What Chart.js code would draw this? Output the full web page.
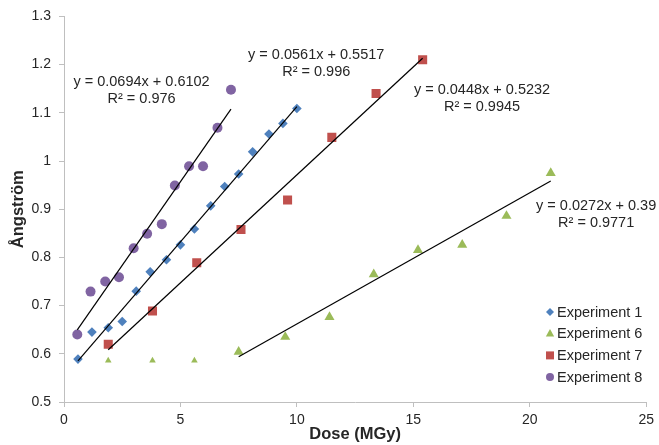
<!DOCTYPE html>
<html>
<head>
<meta charset="utf-8">
<script src="https://cdn.jsdelivr.net/npm/chart.js@4/dist/chart.umd.min.js"></script>
<style>
  html, body { margin: 0; padding: 0; background: #ffffff; }
  #wrap { width: 659px; height: 445px; position: relative; }
</style>
</head>
<body>
<div id="wrap"><canvas id="c" width="659" height="445"></canvas></div>
<script>
// ---- data ----
const seriesNames = ['Experiment 1', 'Experiment 6', 'Experiment 7', 'Experiment 8'];

const exp1Dose = [0.6, 1.2, 1.9, 2.5, 3.1, 3.7, 4.4, 5.0, 5.6, 6.3, 6.9, 7.5, 8.1, 8.8, 9.4, 10.0];
const exp1Ang  = [0.589, 0.645, 0.654, 0.667, 0.730, 0.770, 0.795, 0.826, 0.859, 0.907, 0.947, 0.973, 1.019, 1.056, 1.078, 1.109];

const exp6Dose = [1.9, 3.8, 5.6, 7.5, 9.5, 11.4, 13.3, 15.2, 17.1, 19.0, 20.9];
const exp6Ang  = [0.586, 0.586, 0.586, 0.604, 0.635, 0.676, 0.765, 0.815, 0.826, 0.886, 0.975];

const exp7Dose = [1.9, 3.8, 5.7, 7.6, 9.6, 11.5, 13.4, 15.4];
const exp7Ang  = [0.620, 0.689, 0.789, 0.858, 0.919, 1.049, 1.140, 1.210];

const exp8Dose = [0.57, 1.14, 1.77, 2.36, 2.99, 3.57, 4.2, 4.76, 5.37, 5.97, 6.59, 7.17];
const exp8Ang  = [0.640, 0.729, 0.750, 0.759, 0.819, 0.849, 0.869, 0.949, 0.989, 0.989, 1.069, 1.148];

// linear trendlines (slope, intercept, R²) and first fitted point index
const trendSlope     = [0.0561, 0.0272, 0.0448, 0.0694];
const trendIntercept = [0.5517, 0.39,   0.5232, 0.6102];
const trendR2        = ['0.996', '0.9771', '0.9945', '0.976'];
const trendEqText    = ['y = 0.0561x + 0.5517', 'y = 0.0272x + 0.39', 'y = 0.0448x + 0.5232', 'y = 0.0694x + 0.6102'];
const trendFitFrom   = [0, 3, 0, 0];

const xTicks = [0, 5, 10, 15, 20, 25];
const yTicks = [0.5, 0.6, 0.7, 0.8, 0.9, 1.0, 1.1, 1.2, 1.3];
const yTickLabels = ['0.5', '0.6', '0.7', '0.8', '0.9', '1', '1.1', '1.2', '1.3'];
const xTitle = 'Dose (MGy)';
const yTitle = 'Ångström';

// ---- styling ----
const colors = ['#4F81BD', '#9BBB59', '#C0504D', '#8064A2'];
const pointStyles = ['rectRot', 'triangle', 'rect', 'circle'];
const pointSizes = [
  exp1Dose.map(() => 4.8),
  exp6Dose.map((d, i) => i < 3 ? 3.8 : 5.8),
  exp7Dose.map(() => 6.4),
  exp8Dose.map(() => 5)
];
// label anchor (data coordinates of the centre of the first line)
const labelAnchors = [
  {x: 10.83, y: 1.220},
  {x: 22.85, y: 0.907},
  {x: 17.95, y: 1.148},
  {x: 3.33, y: 1.163}
];

const doses = [exp1Dose, exp6Dose, exp7Dose, exp8Dose];
const angs  = [exp1Ang, exp6Ang, exp7Ang, exp8Ang];

const datasets = [];
for (let s = 0; s < 4; s++) {
  datasets.push({
    label: seriesNames[s],
    data: doses[s].map((d, i) => ({x: d, y: angs[s][i]})),
    backgroundColor: colors[s],
    borderColor: colors[s],
    borderWidth: 0,
    pointStyle: pointStyles[s],
    pointRadius: pointSizes[s],
    pointHoverRadius: pointSizes[s],
    showLine: false,
    order: 2
  });
}
for (let s = 0; s < 4; s++) {
  const fitted = doses[s].slice(trendFitFrom[s]);
  const x0 = Math.min(...fitted), x1 = Math.max(...fitted);
  datasets.push({
    label: 'trend ' + seriesNames[s],
    data: [x0, x1].map(x => ({x: x, y: trendSlope[s] * x + trendIntercept[s]})),
    borderColor: '#000000',
    borderWidth: 1.2,
    pointRadius: 0,
    showLine: true,
    fill: false,
    order: 1
  });
}

const textColor = '#262626';
const axisColor = '#BFBFBF';

const annotPlugin = {
  id: 'annot',
  afterDatasetsDraw(chart) {
    const ctx = chart.ctx;
    const xs = chart.scales.x, ys = chart.scales.y;
    ctx.save();
    ctx.fillStyle = textColor;
    ctx.font = '14.5px "Liberation Sans", Arial, sans-serif';
    ctx.textAlign = 'center';
    ctx.textBaseline = 'middle';
    for (let s = 0; s < 4; s++) {
      const px = xs.getPixelForValue(labelAnchors[s].x);
      const py = ys.getPixelForValue(labelAnchors[s].y);
      ctx.fillText(trendEqText[s], px, py);
      ctx.fillText('R² = ' + trendR2[s], px, py + 17);
    }
    // legend
    const lx = 550, ly0 = 312, step = 21.7;
    ctx.textAlign = 'left';
    for (let s = 0; s < 4; s++) {
      const y = ly0 + s * step;
      ctx.fillStyle = colors[s];
      ctx.beginPath();
      if (pointStyles[s] === 'rectRot') {
        const r = 4;
        ctx.moveTo(lx - r, y); ctx.lineTo(lx, y - r); ctx.lineTo(lx + r, y); ctx.lineTo(lx, y + r);
      } else if (pointStyles[s] === 'triangle') {
        const r = 4.8;
        ctx.moveTo(lx, y - r); ctx.lineTo(lx + r * 0.866, y + r / 2 + 0.5); ctx.lineTo(lx - r * 0.866, y + r / 2 + 0.5);
      } else if (pointStyles[s] === 'rect') {
        ctx.rect(lx - 4, y - 4, 8, 8);
      } else {
        ctx.arc(lx, y, 4, 0, Math.PI * 2);
      }
      ctx.closePath();
      ctx.fill();
      ctx.fillStyle = textColor;
      ctx.fillText(seriesNames[s], lx + 7, y + 0.5);
    }
    ctx.restore();
  }
};

new Chart(document.getElementById('c'), {
  type: 'scatter',
  data: { datasets: datasets },
  plugins: [annotPlugin],
  options: {
    responsive: false,
    animation: false,
    devicePixelRatio: 1,
    layout: { padding: { left: 0, right: 11, top: 16, bottom: 0 } },
    plugins: {
      legend: { display: false },
      tooltip: { enabled: false }
    },
    scales: {
      x: {
        type: 'linear',
        min: xTicks[0],
        max: xTicks[xTicks.length - 1],
        afterBuildTicks: (scale) => { scale.ticks = xTicks.map(v => ({value: v})); },
        afterFit: (scale) => { scale.height = 43; },
        ticks: {
          color: textColor,
          font: { family: '"Liberation Sans", Arial, sans-serif', size: 14 },
          padding: 5,
          maxRotation: 0,
          callback: (v) => String(v)
        },
        grid: { display: true, drawOnChartArea: false, drawTicks: true, tickLength: 5, color: axisColor },
        border: { display: true, color: axisColor, width: 1 },
        title: {
          display: true,
          text: xTitle,
          color: textColor,
          font: { family: '"Liberation Sans", Arial, sans-serif', size: 16.5, weight: 'bold' },
          padding: { top: 0, bottom: 1 }
        }
      },
      y: {
        type: 'linear',
        min: yTicks[0],
        max: yTicks[yTicks.length - 1],
        afterBuildTicks: (scale) => { scale.ticks = yTicks.map(v => ({value: v})); },
        afterFit: (scale) => { scale.width = 64; },
        ticks: {
          color: textColor,
          font: { family: '"Liberation Sans", Arial, sans-serif', size: 14 },
          padding: 8,
          callback: (v) => {
            const i = yTicks.findIndex(t => Math.abs(t - v) < 1e-9);
            return i >= 0 ? yTickLabels[i] : '';
          }
        },
        grid: { display: true, drawOnChartArea: false, drawTicks: true, tickLength: 5, color: axisColor },
        border: { display: true, color: axisColor, width: 1 },
        title: {
          display: true,
          text: yTitle,
          color: textColor,
          font: { family: '"Liberation Sans", Arial, sans-serif', size: 16.5, weight: 'bold' },
          padding: { top: 9, bottom: 0 }
        }
      }
    }
  }
});
</script>
</body>
</html>
